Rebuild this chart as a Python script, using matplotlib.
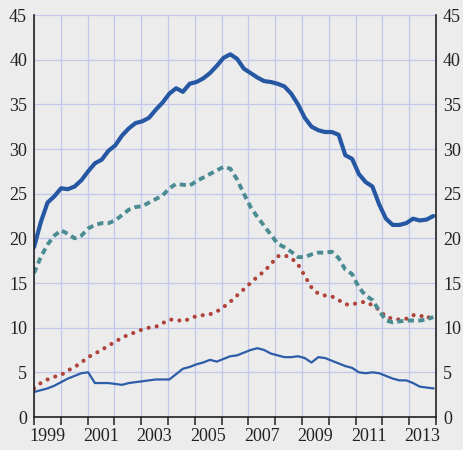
import numpy as np
import matplotlib
matplotlib.use("Agg")
import matplotlib.pyplot as plt

# Quarterly observations 1999Q1 .. 2013Q4
dates = np.linspace(1999.0, 2013.9, 60)

thick_blue = [19.0, 21.8, 24.0, 24.7, 25.6, 25.5, 25.8, 26.5, 27.5, 28.4,
              28.8, 29.8, 30.4, 31.5, 32.3, 32.9, 33.1, 33.5, 34.4, 35.2,
              36.2, 36.8, 36.4, 37.3, 37.5, 37.9, 38.5, 39.3, 40.2, 40.6,
              40.1, 39.0, 38.5, 38.0, 37.6, 37.5, 37.3, 37.0, 36.2, 35.0,
              33.5, 32.5, 32.1, 31.9, 31.9, 31.6, 29.3, 28.9, 27.2, 26.3,
              25.8, 23.8, 22.2, 21.5, 21.5, 21.7, 22.2, 22.0, 22.1, 22.5]

teal_dashed = [16.1, 17.9, 19.3, 20.3, 20.9, 20.5, 20.0, 20.3, 21.1, 21.5,
               21.7, 21.7, 22.0, 22.6, 23.2, 23.5, 23.6, 24.0, 24.4, 24.8,
               25.6, 26.1, 26.0, 25.9, 26.4, 26.8, 27.2, 27.6, 28.0, 27.8,
               26.6, 25.0, 23.5, 22.4, 21.4, 20.4, 19.4, 19.0, 18.5, 17.9,
               17.9, 18.2, 18.4, 18.4, 18.5, 17.8, 16.5, 16.0, 14.5, 13.6,
               13.1, 11.9, 10.8, 10.6, 10.7, 10.8, 10.8, 10.8, 10.9, 11.2]

red_dotted = [3.2, 3.8, 4.2, 4.5, 4.7, 5.2, 5.6, 6.1, 6.7, 7.1,
              7.5, 8.0, 8.4, 8.9, 9.2, 9.5, 9.8, 10.0, 10.1, 10.5,
              10.9, 10.9, 10.7, 11.0, 11.3, 11.4, 11.5, 11.8, 12.3, 12.9,
              13.6, 14.3, 15.0, 15.7, 16.3, 17.1, 18.0, 18.1, 17.8, 17.1,
              15.8, 14.5, 13.8, 13.6, 13.5, 13.1, 12.6, 12.6, 12.8, 12.9,
              12.5, 12.0, 11.2, 11.0, 10.9, 11.0, 11.4, 11.4, 11.0, 11.5]

thin_blue = [2.8, 3.0, 3.2, 3.5, 3.9, 4.3, 4.6, 4.9, 5.0, 3.8,
             3.8, 3.8, 3.7, 3.6, 3.8, 3.9, 4.0, 4.1, 4.2, 4.2,
             4.2, 4.8, 5.4, 5.6, 5.9, 6.1, 6.4, 6.2, 6.5, 6.8,
             6.9, 7.2, 7.5, 7.7, 7.5, 7.1, 6.9, 6.7, 6.7, 6.8,
             6.6, 6.1, 6.7, 6.6, 6.3, 6.0, 5.7, 5.5, 5.0, 4.9,
             5.0, 4.9, 4.6, 4.3, 4.1, 4.1, 3.8, 3.4, 3.3, 3.2]

year_labels = ["1999", "2001", "2003", "2005", "2007", "2009", "2011", "2013"]
y_ticks = [0, 5, 10, 15, 20, 25, 30, 35, 40, 45]

plt.rcParams['font.family'] = ['Liberation Serif', 'DejaVu Serif']

bg = "#ececec"
fig = plt.figure(figsize=(4.63, 4.50), dpi=100, facecolor=bg)
ax = fig.add_axes([34/463, 1 - 417/450, (436 - 34)/463, (417 - 15)/450])
ax.set_facecolor(bg)

grid_c = "#c3c7ea"
ax.set_xlim(1999, 2014)
ax.set_ylim(0, 45)
ax.set_yticks(y_ticks)
ax.set_xticks(np.arange(1999, 2015), minor=False)
ax.set_xticklabels([])
ax.set_xticks([int(l) + 0.5 for l in year_labels], minor=True)
ax.set_xticklabels(year_labels, minor=True)
ax.grid(True, which='major', color=grid_c, lw=0.9)
ax.set_axisbelow(True)

ax.tick_params(axis='x', which='major', direction='out', length=6, width=1.2,
               color='#333333')
ax.tick_params(axis='x', which='minor', length=0, labelsize=13, pad=8,
               labelcolor='#222222')
ax.tick_params(axis='y', length=0, labelsize=13, labelleft=True,
               labelright=True, pad=5, labelcolor='#222222')

ax.spines['top'].set_visible(False)
for s in ['left', 'right', 'bottom']:
    ax.spines[s].set_color('#222222')
    ax.spines[s].set_linewidth(1.2)

ax.plot(dates, thin_blue, color='#2d5ca8', lw=1.6, solid_joinstyle='round')
ax.plot(dates, red_dotted, color='#b0443c', lw=3.0,
        linestyle=(0, (0.01, 1.95)), dash_capstyle='round')
ax.plot(dates, teal_dashed, color='#4b8c93', lw=2.8,
        linestyle=(0, (1.6, 1.1)), dash_capstyle='butt')
ax.plot(dates, thick_blue, color='#2657a3', lw=3.0, solid_joinstyle='round',
        solid_capstyle='round')

fig.savefig("out.png", dpi=100, facecolor=bg)
